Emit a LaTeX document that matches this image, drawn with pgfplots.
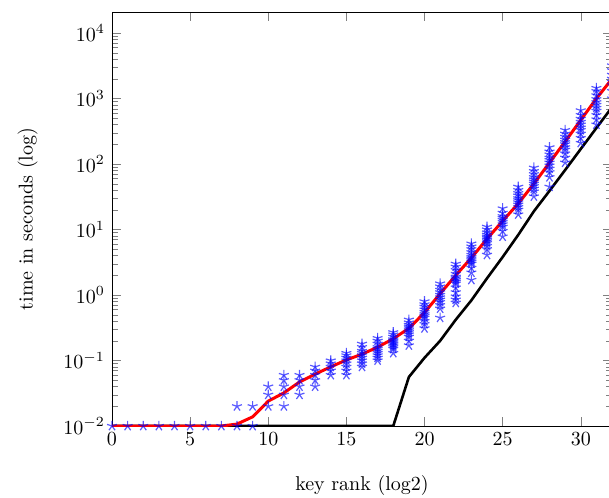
\documentclass[border=0pt]{standalone}
\usepackage{pgfplots}
\pgfplotsset{compat=1.18}

\begin{document}
\begin{tikzpicture}
\begin{semilogyaxis}[
    scale only axis,
    width=250pt, height=207pt,
    xmin=0, xmax=32,
    ymin=0.01, ymax=2.1e4,
    xlabel={key rank (log2)},
    ylabel={time in seconds (log)},
    xlabel style={yshift=-8pt},
    ylabel style={yshift=6pt},
]
% lower bound
\addplot[black, line width=1.3pt, no marks] coordinates {
 (0,0.01) (18,0.01) (19,0.056) (20,0.11) (21,0.20) (22,0.42) (23,0.83)
 (24,1.8) (25,3.8) (26,8.3) (27,19) (28,39) (29,81) (30,170) (31,355) (32,740)
};
% mean
\addplot[red, line width=1.5pt, no marks] coordinates {
 (0,0.01) (7,0.01) (8,0.0107) (9,0.0138) (10,0.024) (11,0.032) (12,0.047)
 (13,0.062) (14,0.080) (15,0.102) (16,0.125) (17,0.16) (18,0.215) (19,0.31)
 (20,0.54) (21,1.05) (22,2.0) (23,3.7) (24,7.2) (25,13.5) (26,25) (27,50)
 (28,105) (29,220) (30,470) (31,1000) (32,2000)
};
% single runs
\addplot[only marks, mark=star, mark size=2.6pt,
    mark options={blue, line width=0.6pt, opacity=0.65}] coordinates {
 (0,0.01) (1,0.01) (2,0.01) (3,0.01) (4,0.01) (5,0.01) (6,0.01) (7,0.01)
 (8,0.01) (8,0.02) (9,0.01) (9,0.02)
 (10,0.02) (10,0.03) (10,0.04)
 (11,0.02) (11,0.03) (11,0.04) (11,0.05) (11,0.06)
 (12,0.03) (12,0.04) (12,0.05) (12,0.06)
 (13,0.04) (13,0.05) (13,0.06) (13,0.07) (13,0.08)
 (14,0.06) (14,0.07) (14,0.08) (14,0.09) (14,0.10)
 (15,0.06) (15,0.07) (15,0.08) (15,0.09) (15,0.10) (15,0.11) (15,0.12) (15,0.13)
 (16,0.08) (16,0.09) (16,0.10) (16,0.11) (16,0.12) (16,0.13) (16,0.14) (16,0.16) (16,0.18)
 (17,0.10) (17,0.11) (17,0.12) (17,0.13) (17,0.14) (17,0.15) (17,0.16) (17,0.18) (17,0.20) (17,0.22)
 (18,0.13) (18,0.15) (18,0.16) (18,0.17) (18,0.18) (18,0.19) (18,0.20) (18,0.21) (18,0.23) (18,0.25) (18,0.27)
 (19,0.17) (19,0.20) (19,0.23) (19,0.25) (19,0.27) (19,0.29) (19,0.31) (19,0.33) (19,0.35) (19,0.38) (19,0.42)
 (20,0.31) (20,0.36) (20,0.40) (20,0.45) (20,0.48) (20,0.51) (20,0.55) (20,0.60) (20,0.66) (20,0.72) (20,0.80)
 (21,0.45) (21,0.62) (21,0.70) (21,0.78) (21,0.85) (21,0.92) (21,1.0) (21,1.1) (21,1.2) (21,1.35) (21,1.5)
 (22,0.76) (22,0.85) (22,0.95) (22,1.1) (22,1.3) (22,1.5) (22,1.6) (22,1.7) (22,1.8) (22,1.9) (22,2.1) (22,2.4) (22,2.7) (22,3.0)
 (23,1.7) (23,2.2) (23,2.6) (23,3.0) (23,3.2) (23,3.4) (23,3.6) (23,3.8) (23,4.1) (23,4.5) (23,5.0) (23,5.5) (23,6.1)
 (24,4.1) (24,5.0) (24,5.6) (24,6.2) (24,6.6) (24,7.0) (24,7.4) (24,7.8) (24,8.3) (24,9.0) (24,10) (24,11)
 (25,7.8) (25,9.5) (25,11) (25,12) (25,13) (25,14) (25,15) (25,16) (25,18) (25,21)
 (26,17) (26,20) (26,22) (26,24) (26,26) (26,28) (26,30) (26,33) (26,36) (26,40) (26,45)
 (27,32) (27,38) (27,42) (27,46) (27,50) (27,54) (27,58) (27,63) (27,70) (27,78) (27,88)
 (28,45) (28,63) (28,75) (28,85) (28,95) (28,105) (28,115) (28,125) (28,140) (28,155) (28,180)
 (29,105) (29,125) (29,145) (29,165) (29,180) (29,200) (29,215) (29,235) (29,260) (29,290) (29,330)
 (30,210) (30,250) (30,290) (30,330) (30,360) (30,400) (30,440) (30,490) (30,560) (30,660)
 (31,400) (31,480) (31,560) (31,650) (31,720) (31,800) (31,880) (31,980) (31,1120) (31,1300) (31,1450)
 (32,1000) (32,1300) (32,1600) (32,1800) (32,2000) (32,2300) (32,2700) (32,3200)
};
\end{semilogyaxis}
\pgfresetboundingbox
\path (-56pt,-35.5pt) rectangle (248.5pt,213pt);
\end{tikzpicture}
\end{document}
